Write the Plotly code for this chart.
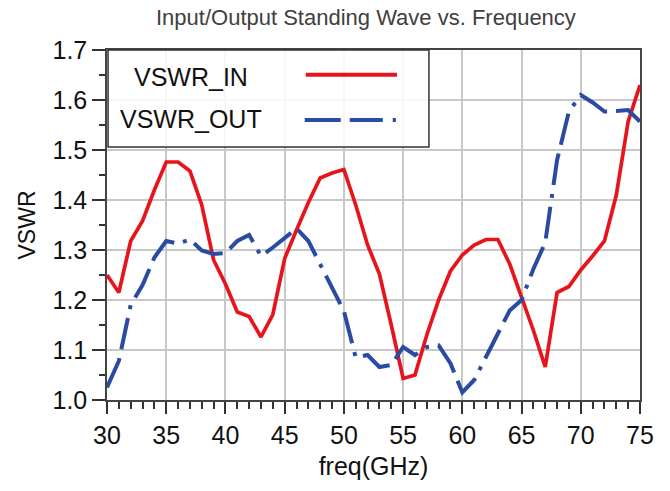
import plotly.graph_objects as go

freq = list(range(30, 76))
vswr_in = [1.25, 1.215, 1.318, 1.358, 1.42, 1.476, 1.476, 1.458, 1.39, 1.28,
           1.232, 1.176, 1.167, 1.126, 1.171, 1.283, 1.34, 1.395, 1.444, 1.454,
           1.461, 1.39, 1.31, 1.252, 1.15, 1.043, 1.05, 1.13, 1.2, 1.258,
           1.29, 1.31, 1.321, 1.321, 1.272, 1.205, 1.139, 1.066, 1.215, 1.227,
           1.26, 1.288, 1.318, 1.41, 1.557, 1.63]
vswr_out = [1.025, 1.078, 1.19, 1.23, 1.285, 1.318, 1.313, 1.321, 1.299, 1.292,
            1.294, 1.318, 1.33, 1.288, 1.305, 1.325, 1.343, 1.318, 1.272, 1.225,
            1.178, 1.085, 1.09, 1.066, 1.07, 1.106, 1.09, 1.106, 1.109, 1.073,
            1.015, 1.04, 1.085, 1.13, 1.179, 1.2, 1.262, 1.315, 1.48, 1.577,
            1.61, 1.595, 1.577, 1.578, 1.58, 1.557]
series_names = ["VSWR_IN", "VSWR_OUT"]
x_ticks = [30, 35, 40, 45, 50, 55, 60, 65, 70, 75]
y_ticks = [1.0, 1.1, 1.2, 1.3, 1.4, 1.5, 1.6, 1.7]
title_text = "Input/Output Standing Wave vs. Frequency"

RED = "#E8141C"
BLUE = "#2A4BA3"
BLUE_DASH = "32px,9px,32px,9px,4px,9px"
FONT = "Liberation Sans, Arial, sans-serif"

# the page body has an 8px margin, so the figure is 8px smaller than the window
W, H = 662, 483

fig = go.Figure()
fig.add_trace(go.Scatter(x=freq, y=vswr_in, mode="lines", name=series_names[0],
                         line=dict(color=RED, width=3.7)))
fig.add_trace(go.Scatter(x=freq, y=vswr_out, mode="lines", name=series_names[1],
                         line=dict(color=BLUE, width=4, dash=BLUE_DASH)))

axis_common = dict(showline=True, linecolor="#444", linewidth=1.5, mirror=True,
                   showgrid=True, gridcolor="#C8C8C8", gridwidth=1.5,
                   ticks="outside", tickwidth=1.5, tickcolor="#333",
                   tickfont=dict(family=FONT, size=25, color="#111"), zeroline=False,
                   automargin=False)

fig.update_layout(
    width=W, height=H,
    margin=dict(l=99, r=30, t=42, b=91),
    paper_bgcolor="white", plot_bgcolor="white",
    showlegend=False,
    xaxis=dict(range=[30, 75], tickvals=x_ticks, ticktext=[str(v) for v in x_ticks],
               ticklen=12,
               minor=dict(dtick=1, ticks="outside", ticklen=7, tickcolor="#333", showgrid=False),
               title=dict(text="freq(GHz)", font=dict(family=FONT, size=25, color="#111"), standoff=10),
               **axis_common),
    yaxis=dict(range=[1.0, 1.7], tickvals=y_ticks, ticktext=[f"{v:.1f}" for v in y_ticks],
               ticklen=13,
               minor=dict(dtick=0.05, ticks="outside", ticklen=6, tickcolor="#333", showgrid=False),
               title=dict(text="VSWR", font=dict(family=FONT, size=23, color="#111"), standoff=10),
               **axis_common),
)

# chart title as a paper annotation above the plot area
fig.add_annotation(xref="paper", yref="paper", x=0.486, y=1.094, xanchor="center", yanchor="middle",
                   text=title_text, showarrow=False,
                   font=dict(family=FONT, size=22, color="#404040"))

# custom legend (text on left, line samples on right)
fig.add_shape(type="rect", xref="paper", yref="paper", x0=0.002, x1=0.604, y0=0.723, y1=1.0,
              fillcolor="rgba(255,255,255,0.85)", line=dict(color="#333", width=1.5), layer="above")
fig.add_shape(type="line", xref="paper", yref="paper", x0=0.373, x1=0.544, y0=0.929, y1=0.929,
              line=dict(color=RED, width=4), layer="above")
fig.add_shape(type="line", xref="paper", yref="paper", x0=0.371, x1=0.542, y0=0.80, y1=0.80,
              line=dict(color=BLUE, width=4, dash="36px,9px,33px,10px,4px,9px"), layer="above")
for name, yy in zip(series_names, [0.923, 0.803]):
    fig.add_annotation(xref="paper", yref="paper", x=0.158, y=yy, xanchor="center", yanchor="middle",
                       text=name, showarrow=False, font=dict(family=FONT, size=25, color="#111"))

fig.write_html("out.html")
